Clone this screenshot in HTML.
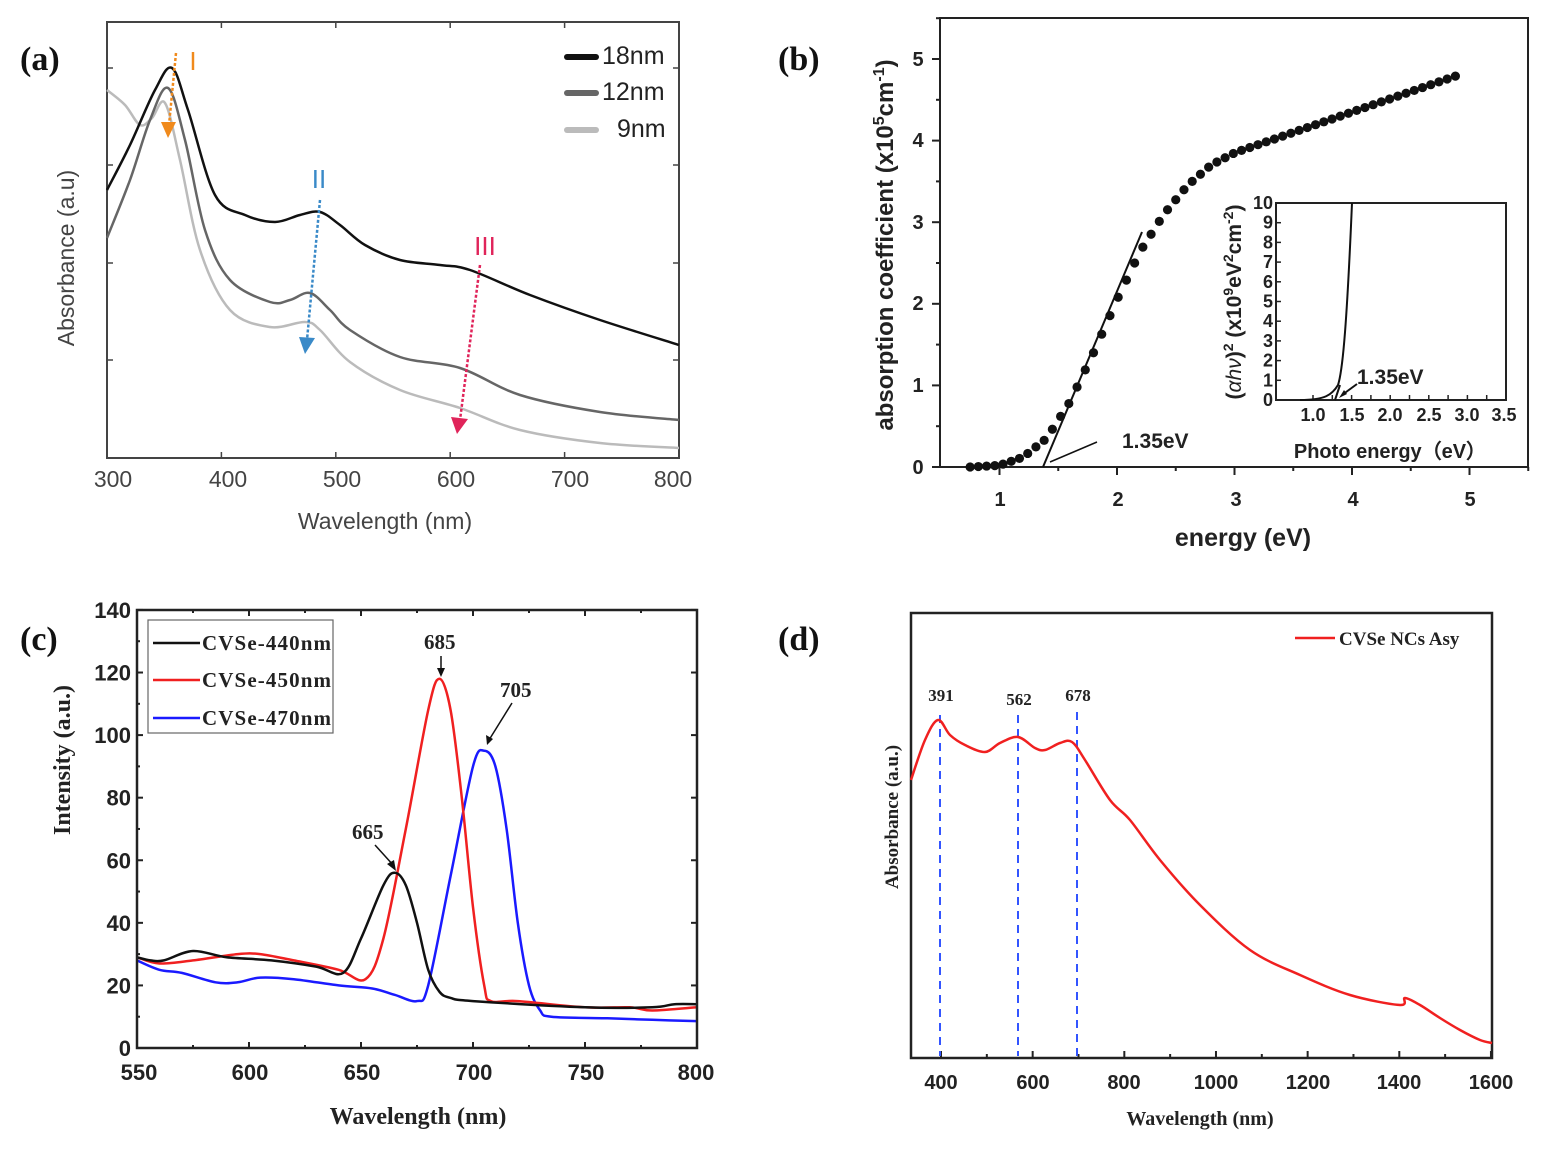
<!DOCTYPE html>
<html><head><meta charset="utf-8"><style>
html,body{margin:0;padding:0;background:#fff}
svg{display:block}
.s{font-family:"Liberation Sans",sans-serif}
.r{font-family:"Liberation Serif",serif;font-weight:bold}
</style></head><body>
<svg id="g" width="1549" height="1151" viewBox="0 0 1549 1151" xmlns="http://www.w3.org/2000/svg">
<g class="r" font-size="34" fill="#111">
<text x="20" y="70">(a)</text><text x="778" y="70">(b)</text>
<text x="20" y="650">(c)</text><text x="778" y="650">(d)</text>
</g>

<!-- ===== (a) ===== -->
<rect x="107" y="22" width="572" height="436" fill="none" stroke="#444" stroke-width="2"/>
<g id="ta" stroke="#444" stroke-width="1.5"></g>
<g class="s" font-size="23" fill="#444" text-anchor="middle">
<text x="113" y="487">300</text><text x="228" y="487">400</text><text x="342" y="487">500</text>
<text x="456" y="487">600</text><text x="570" y="487">700</text><text x="673" y="487">800</text>
<text x="385" y="529">Wavelength (nm)</text>
<text transform="translate(74,258) rotate(-90)">Absorbance (a.u)</text>
</g>
<g id="ca" fill="none" stroke-width="2.5"></g>
<g stroke-width="6" stroke-linecap="round">
<line x1="567" y1="57" x2="596" y2="57" stroke="#111"/>
<line x1="567" y1="93" x2="596" y2="93" stroke="#666"/>
<line x1="567" y1="130" x2="596" y2="130" stroke="#bbb"/>
</g>
<g class="s" font-size="25" fill="#222">
<text x="602" y="64">18nm</text><text x="602" y="100">12nm</text><text x="617" y="137">9nm</text>
</g>
<g stroke-width="2.5" stroke-dasharray="3,2" fill="none">
<line x1="176" y1="53" x2="169" y2="125" stroke="#f08a1c"/>
<line x1="320" y1="200" x2="307" y2="340" stroke="#3a8ac8"/>
<line x1="480" y1="265" x2="460" y2="420" stroke="#e0245a"/>
</g>
<polygon points="161,122 176,122 168,138" fill="#f08a1c"/>
<polygon points="299,337 315,338 305,354" fill="#3a8ac8"/>
<polygon points="451,417 468,419 457,434" fill="#e0245a"/>
<g class="s" font-size="26" text-anchor="middle">
<text x="193" y="70" fill="#f08a1c">I</text>
<text x="319" y="188" fill="#3a8ac8">II</text>
<text x="485" y="255" fill="#e0245a">III</text>
</g>

<!-- ===== (b) ===== -->
<rect x="940" y="18" width="588" height="449" fill="none" stroke="#222" stroke-width="2"/>
<g id="tb" stroke="#222" stroke-width="2"></g>
<g class="s" font-size="20" font-weight="bold" fill="#222" text-anchor="middle">
<text x="1000" y="506">1</text><text x="1118" y="506">2</text><text x="1236" y="506">3</text>
<text x="1353" y="506">4</text><text x="1470" y="506">5</text>
<text x="918" y="474">0</text><text x="918" y="392">1</text><text x="918" y="310">2</text>
<text x="918" y="229">3</text><text x="918" y="147">4</text><text x="918" y="66">5</text>
<text x="1243" y="546" font-size="25">energy (eV)</text>
<text transform="translate(893,245) rotate(-90)" font-size="24">absorption coefficient (x10<tspan dy="-9" font-size="16">5</tspan><tspan dy="9">cm</tspan><tspan dy="-9" font-size="16">-1</tspan><tspan dy="9">)</tspan></text>
</g>
<g id="db" fill="#111"></g>
<line x1="1043" y1="467" x2="1142" y2="232" stroke="#111" stroke-width="2"/>
<line x1="1097" y1="442" x2="1050" y2="462" stroke="#111" stroke-width="1.5"/>
<text x="1122" y="448" class="s" font-size="21" font-weight="bold" fill="#222">1.35eV</text>
<!-- inset -->
<rect x="1276" y="203" width="230" height="197" fill="none" stroke="#222" stroke-width="2"/>
<g id="ti" stroke="#222" stroke-width="1.5"></g>
<g class="s" font-size="18" font-weight="bold" fill="#222" text-anchor="end" id="til"></g>
<g class="s" font-size="18" font-weight="bold" fill="#222" text-anchor="middle">
<text x="1313" y="421">1.0</text><text x="1352" y="421">1.5</text><text x="1390" y="421">2.0</text>
<text x="1429" y="421">2.5</text><text x="1467" y="421">3.0</text><text x="1504" y="421">3.5</text>
<text x="1390" y="458" font-size="20">Photo energy（eV）</text>
<text transform="translate(1241,302) rotate(-90)" font-size="21">(<tspan font-style="italic" font-weight="normal">αhν</tspan>)<tspan dy="-8" font-size="14">2</tspan><tspan dy="8"> (x10</tspan><tspan dy="-8" font-size="14">9</tspan><tspan dy="8">eV</tspan><tspan dy="-8" font-size="14">2</tspan><tspan dy="8">cm</tspan><tspan dy="-8" font-size="14">-2</tspan><tspan dy="8">)</tspan></text>
</g>
<path d="M1300,400 C1325,400 1332,395 1338,385 C1343,370 1347,320 1352,203" fill="none" stroke="#111" stroke-width="2"/>
<line x1="1335" y1="400" x2="1340" y2="385" stroke="#111" stroke-width="2"/>
<line x1="1357" y1="384" x2="1342" y2="395" stroke="#111" stroke-width="2"/>
<polygon points="1339,398 1344,390 1347,394" fill="#111"/>
<text x="1357" y="384" class="s" font-size="21" font-weight="bold" fill="#222">1.35eV</text>

<!-- ===== (c) ===== -->
<g id="cc" fill="none" stroke-width="2.5"></g>
<rect x="137" y="610" width="560" height="438" fill="none" stroke="#222" stroke-width="2.5"/>
<g id="tc" stroke="#222" stroke-width="2"></g>
<g class="s" font-size="22" font-weight="bold" fill="#222" text-anchor="end" id="tcl"></g>
<g class="s" font-size="22" font-weight="bold" fill="#222" text-anchor="middle">
<text x="139" y="1080">550</text><text x="250" y="1080">600</text><text x="362" y="1080">650</text>
<text x="474" y="1080">700</text><text x="586" y="1080">750</text><text x="696" y="1080">800</text>
</g>
<text x="418" y="1124" class="r" font-size="24" text-anchor="middle" fill="#222">Wavelength (nm)</text>
<text transform="translate(70,760) rotate(-90)" class="r" font-size="24" text-anchor="middle" fill="#222">Intensity (a.u.)</text>
<rect x="148" y="620" width="185" height="113" fill="#fff" stroke="#666" stroke-width="1.2"/>
<g stroke-width="2.5">
<line x1="153" y1="643" x2="200" y2="643" stroke="#111"/>
<line x1="153" y1="680" x2="200" y2="680" stroke="#f02020"/>
<line x1="153" y1="718" x2="200" y2="718" stroke="#1a1aff"/>
</g>
<g class="r" font-size="21" fill="#222">
<text x="202" y="650" textLength="129">CVSe-440nm</text><text x="202" y="687" textLength="129">CVSe-450nm</text><text x="202" y="725" textLength="129">CVSe-470nm</text>
<text x="352" y="839">665</text><text x="424" y="649">685</text><text x="500" y="697">705</text>
</g>
<g stroke="#111" stroke-width="1.5">
<line x1="375" y1="845" x2="394" y2="866"/><line x1="441" y1="656" x2="441" y2="672"/><line x1="512" y1="703" x2="489" y2="740"/>
</g>
<g fill="#111">
<polygon points="396,871 387,864 394,860"/><polygon points="441,677 437,668 445,668"/><polygon points="487,745 486,735 493,739"/>
</g>

<!-- ===== (d) ===== -->
<rect x="911" y="613" width="581" height="445" fill="none" stroke="#222" stroke-width="2.5"/>
<g id="td" stroke="#222" stroke-width="2"></g>
<g class="s" font-size="20" font-weight="bold" fill="#222" text-anchor="middle">
<text x="941" y="1089">400</text><text x="1033" y="1089">600</text><text x="1124" y="1089">800</text>
<text x="1216" y="1089">1000</text><text x="1308" y="1089">1200</text><text x="1399" y="1089">1400</text><text x="1491" y="1089">1600</text>
</g>
<text x="1200" y="1125" class="r" font-size="20" text-anchor="middle" fill="#222">Wavelength (nm)</text>
<text transform="translate(898,817) rotate(-90)" class="r" font-size="19" text-anchor="middle" fill="#222">Absorbance (a.u.)</text>
<g stroke="#3355ff" stroke-width="2" stroke-dasharray="8,6">
<line x1="940" y1="715" x2="940" y2="1056"/><line x1="1018" y1="715" x2="1018" y2="1056"/><line x1="1077" y1="712" x2="1077" y2="1056"/>
</g>
<g class="r" font-size="17" fill="#222" text-anchor="middle">
<text x="941" y="701">391</text><text x="1019" y="705">562</text><text x="1078" y="701">678</text>
</g>
<line x1="1295" y1="638" x2="1335" y2="638" stroke="#f02020" stroke-width="2.5"/>
<text x="1339" y="645" class="r" font-size="19" fill="#222">CVSe NCs Asy</text>
<g id="cd" fill="none" stroke="#f02020" stroke-width="2.5"></g>
</svg>
<script>
var NS="http://www.w3.org/2000/svg";
function el(p,t,a){var e=document.createElementNS(NS,t);for(var k in a)e.setAttribute(k,a[k]);document.getElementById(p).appendChild(e);return e;}
function cr(pts){var d="M"+pts[0][0].toFixed(1)+","+pts[0][1].toFixed(1);
for(var i=0;i<pts.length-1;i++){var p0=pts[i-1]||pts[i],p1=pts[i],p2=pts[i+1],p3=pts[i+2]||p2;
d+=" C"+(p1[0]+(p2[0]-p0[0])/6).toFixed(1)+","+(p1[1]+(p2[1]-p0[1])/6).toFixed(1)+" "+(p2[0]-(p3[0]-p1[0])/6).toFixed(1)+","+(p2[1]-(p3[1]-p1[1])/6).toFixed(1)+" "+p2[0].toFixed(1)+","+p2[1].toFixed(1);}return d;}
[[107,68],[107,165],[107,263],[107,360]].forEach(function(p){el("ta","line",{x1:107,y1:p[1],x2:113,y2:p[1]});el("ta","line",{x1:673,y1:p[1],x2:679,y2:p[1]});});
for(var l=300;l<=800;l+=100){var x=107+(l-300)*1.144;el("ta","line",{x1:x,y1:458,x2:x,y2:452});el("ta","line",{x1:x,y1:22,x2:x,y2:28});}
el("ca","path",{d:cr([[107,90],[125,105],[140,125],[152,118],[165,103],[180,160],[200,250],[230,310],[270,327],[305,322],[320,330],[350,362],[400,390],[460,408],[520,430],[600,443],[679,448]]),stroke:"#bbb"});
el("ca","path",{d:cr([[107,238],[130,180],[150,120],[168,88],[185,140],[205,230],[230,280],[270,302],[290,300],[310,293],[330,310],[350,330],[400,357],[460,368],[520,395],[600,412],[679,420]]),stroke:"#666"});
el("ca","path",{d:cr([[107,190],[130,145],[155,90],[172,68],[188,110],[215,195],[245,215],[275,222],[300,215],[320,212],[340,225],[365,245],[400,260],[440,265],[470,270],[530,295],[600,320],[679,345]]),stroke:"#111"});
for(var e=1;e<=5;e++){var x=882+e*117.5;el("tb","line",{x1:x,y1:467,x2:x,y2:475});el("tb","line",{x1:x+58.75,y1:467,x2:x+58.75,y2:471});}
for(var v=0;v<=5;v++){var y=467-v*81.6;el("tb","line",{x1:940,y1:y,x2:932,y2:y});el("tb","line",{x1:940,y1:y-40.8,x2:936,y2:y-40.8});}
var A=[[0.75,0],[1.0,0.02],[1.2,0.12],[1.4,0.35],[1.6,0.8],[1.8,1.4],[2.0,2.05],[2.2,2.65],[2.4,3.1],[2.6,3.45],[2.8,3.7],[3.0,3.85],[3.5,4.1],[4.0,4.35],[4.5,4.6],[4.9,4.8]];
function ia(E){for(var i=0;i<A.length-1;i++){if(E<=A[i+1][0]){var t=(E-A[i][0])/(A[i+1][0]-A[i][0]);return A[i][1]+t*(A[i+1][1]-A[i][1]);}}return 4.8;}
for(var E=0.75;E<=4.91;E+=0.07){el("db","circle",{cx:882+E*117.5,cy:467-ia(E)*81.6,r:4.6});}
for(var v=0;v<=10;v++){var y=400-v*19.7;el("ti","line",{x1:1276,y1:y,x2:1281,y2:y});var t=el("til","text",{x:1273,y:y+6});t.textContent=v;}
for(var e=1.0;e<=3.51;e+=0.25){var x=1313+(e-1)*77.2;el("ti","line",{x1:x,y1:400,x2:x,y2:395});}
for(var v=0;v<=140;v+=20){var y=1048-v*3.129;el("tc","line",{x1:137,y1:y,x2:143,y2:y});el("tc","line",{x1:697,y1:y,x2:691,y2:y});var t=el("tcl","text",{x:131,y:y+8});t.textContent=v;
if(v<140){el("tc","line",{x1:137,y1:y-31.3,x2:140,y2:y-31.3});}}
for(var l=550;l<=800;l+=25){var x=137+(l-550)*2.24;var h=(l%50==0)?6:3;el("tc","line",{x1:x,y1:1048,x2:x,y2:1048-h});el("tc","line",{x1:x,y1:610,x2:x,y2:610+h});}
function cc(d,c){el("cc","path",{d:cr(d.map(function(p){return[137+(p[0]-550)*2.24,1048-p[1]*3.129];})),stroke:c});}
cc([[550,28],[560,25],[570,24],[585,21],[595,21],[605,22.5],[620,22],[640,20],[655,19],[665,17],[675,15],[680,20],[690,55],[700,90],[705,95],[710,90],[715,70],[720,40],[725,20],[730,12],[735,10],[760,9.5],[780,9],[800,8.6]],"#1a1aff");
cc([[550,29],[560,27],[575,28],[595,30],[605,30],[620,28],[640,25],[652,22],[660,35],[670,70],[680,108],[685,118],[690,108],[695,80],[700,45],[705,20],[708,15],[720,15],[750,13],[770,13],[780,12],[800,13]],"#f02020");
cc([[550,29],[556,28],[562,28],[575,31],[590,29],[610,28],[630,26],[642,24],[650,35],[660,52],[665,56],[670,52],[675,40],[680,25],[685,18],[690,16],[700,15],[750,13],[780,13],[790,14],[800,14]],"#111");
for(var l=400;l<=1600;l+=100){var x=941+(l-400)*0.4583;var h=(l%200==0)?7:4;el("td","line",{x1:x,y1:1058,x2:x,y2:1058-h});}
el("cd","path",{d:cr([[911,780],[925,740],[938,720],[950,735],[965,745],[985,752],[1000,743],[1018,737],[1035,748],[1045,750],[1060,743],[1072,742],[1085,760],[1110,800],[1130,820],[1160,860],[1200,905],[1250,950],[1300,975],[1350,995],[1400,1005],[1405,998],[1420,1005],[1440,1018],[1460,1030],[1480,1040],[1492,1043]])});
</script>
</body></html>
